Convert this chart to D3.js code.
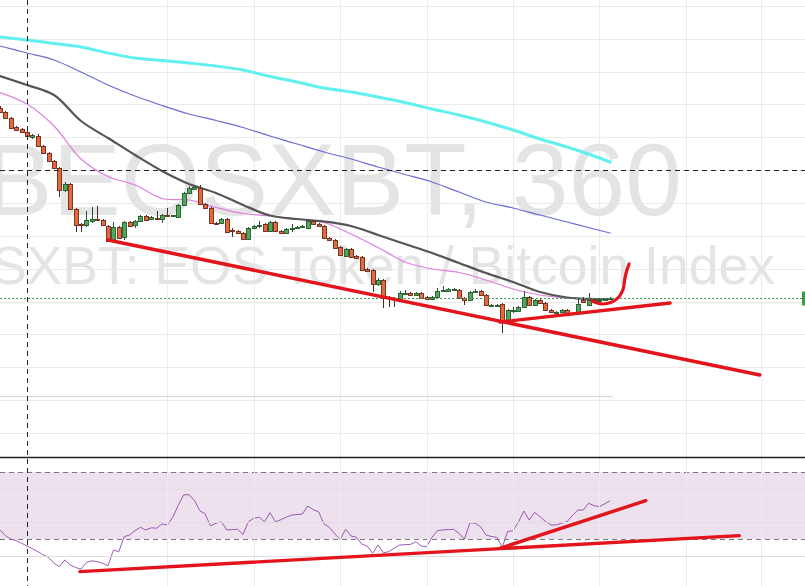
<!DOCTYPE html>
<html>
<head>
<meta charset="utf-8">
<script src="https://cdnjs.cloudflare.com/ajax/libs/d3/7.8.5/d3.min.js"></script>
<style>
html,body{margin:0;padding:0;background:#ffffff;overflow:hidden}
svg{display:block}
</style>
</head>
<body>
<svg id="chart" width="805" height="586"></svg>
<script>
// ---------------- DATA (prices in 1e-6 BTC units, one candle = 360 min) ----------------
const symbolText = ".BEOSXBT, 360";
const descriptionText = ".BEOSXBT: EOS Token / Bitcoin Index";

const opens = [95.2,94.8,94.2,93.3,93.1,92.8,92.3,92.4,91.4,90.7,89.9,89.2,87.0,87.6,85.1,83.6,83.5,83.9,84.1,84.0,
83.4,81.9,83.3,82.3,83.8,83.5,83.9,84.4,84.1,84.2,84.1,84.5,84.4,84.3,85.5,86.7,87.1,87.2,85.6,85.2,
83.7,83.7,84.1,82.95,82.9,82.7,82.1,83.2,83.4,83.6,82.9,83.8,82.9,82.7,83.1,83.2,83.3,83.2,83.9,83.6,
83.4,82.2,82.0,81.3,80.4,81.1,80.4,80.3,79.1,79.0,77.6,78.0,76.3,76.2,76.2,76.7,76.7,76.5,76.7,76.3,
76.1,76.3,76.9,76.9,77.1,77.0,76.2,76.0,76.9,76.9,76.5,75.5,75.5,75.6,74.0,75.0,74.9,75.3,76.3,75.5,
76.0,75.7,75.0,74.8,74.8,75.0,74.7,74.7,76.0,75.5,76.0,76.0,76.1,76.1];
const highs = [95.4,94.9,94.3,93.4,93.2,92.9,92.6,92.6,91.5,90.8,90.0,89.3,87.8,87.7,85.2,83.7,84.9,85.3,85.4,84.1,
83.5,83.8,83.4,83.9,83.9,84.0,84.5,84.5,84.4,84.9,84.6,85.2,84.5,85.6,86.8,87.4,87.5,87.5,85.7,85.3,
83.8,84.2,84.2,83.2,83.0,82.8,83.3,83.5,83.9,83.7,83.9,83.9,83.0,83.2,83.6,83.4,83.5,84.1,84.0,83.7,
83.5,82.3,82.1,81.4,81.2,81.2,80.5,80.4,79.2,79.1,78.2,78.1,76.4,76.3,76.9,77.0,76.8,76.8,76.8,76.4,
76.4,77.2,77.4,77.2,77.2,77.1,76.3,76.9,77.1,77.0,76.6,75.6,75.6,75.7,75.1,75.3,75.4,76.9,76.4,76.1,
76.1,75.8,75.1,74.9,75.1,75.1,74.8,76.2,76.3,76.7,76.1,76.1,76.2,76.3];
const lows = [94.7,94.1,93.1,92.95,92.7,92.3,92.1,91.3,90.6,89.8,89.1,86.3,86.8,85.0,82.8,82.8,83.3,83.7,83.9,83.4,
81.8,81.8,82.1,82.0,83.3,83.2,83.8,83.9,84.0,84.0,83.7,84.3,84.3,84.2,85.4,86.6,87.0,85.5,85.1,83.6,
83.5,83.6,82.7,82.3,82.6,82.0,82.0,83.1,83.2,82.8,82.8,82.8,82.6,82.6,82.8,83.1,83.2,83.1,83.5,83.3,
82.1,81.9,81.1,80.4,80.3,80.2,80.1,78.9,78.8,76.8,77.4,75.2,75.3,75.3,76.0,76.5,76.4,76.4,76.1,76.0,
76.0,76.2,76.8,76.8,77.0,76.1,75.5,75.9,76.7,76.4,75.4,75.4,75.4,72.7,73.9,74.7,74.8,75.2,75.4,75.4,
75.6,74.9,74.7,74.7,74.7,74.5,74.6,74.6,75.7,75.4,75.8,75.9,76.0,76.0];
const closes = [94.8,94.2,93.2,93.05,92.8,92.4,92.5,91.4,90.7,89.9,89.2,87.0,87.6,85.1,83.5,83.5,84.0,84.1,84.0,83.5,
81.9,83.3,82.2,83.8,83.4,83.9,84.4,84.0,84.3,84.1,84.5,84.4,84.45,85.5,86.7,87.2,87.3,85.6,85.2,83.7,
83.6,84.1,82.8,82.9,82.7,82.1,83.2,83.4,83.5,82.9,83.8,82.9,82.7,83.1,83.2,83.3,83.4,83.9,83.6,83.4,
82.2,82.0,81.2,80.5,81.1,80.3,80.2,79.0,78.9,77.6,78.0,76.2,76.2,76.2,76.7,76.7,76.5,76.7,76.2,76.1,
76.3,76.9,77.0,77.1,77.1,76.2,76.0,76.8,76.9,76.5,75.5,75.5,75.5,74.0,75.0,75.0,75.3,76.3,75.5,76.0,
75.7,75.0,74.8,74.8,75.0,74.6,74.7,75.6,75.8,76.0,75.9,76.0,76.1,76.2];

// RSI (14), one value per candle
const rsi = [35.4,32,30,29,27.5,25.8,24.2,22.5,20.5,19,15.5,13.5,17.5,14.5,13,12,16,17,16.5,15.5,
14,23.4,22.4,31.4,32.4,35,37,35.4,36.7,36.4,39,38.4,43,50,56.3,56.5,53,46.9,44.9,37.8,
39.4,40.3,35.4,35.6,35.8,32.8,40.3,42.4,43,40.3,45.7,40.3,41.5,43,44.3,44.6,44.9,49.7,47.5,46.3,
39,37,33,29.8,35.8,31.8,31,27,25.8,21.5,26.4,21.8,22.4,24.5,26.4,26.6,26.8,28.4,25.8,25.4,
31,35,35.4,35.6,35.8,33.4,29.8,39.7,39.4,37.3,32.4,31.5,31,25,34.4,35,40,46.7,41.3,45.9,
43.3,40.5,38.4,38.4,39.4,40.3,44,47.3,47.3,51.3,50,49.3,51,52.9];

// Moving averages sampled at these candle indices
const maIndex = [0,5,10,15,20,25,30,35,40,45,50,55,60,65,70,75,80,85,90,95,100,105,110,113];
const ma200 = [102.3,102.0,101.65,101.3,100.7,100.2,99.95,99.7,99.4,99.0,98.35,97.8,97.2,96.8,96.3,95.75,95.1,94.5,93.8,93.0,92.1,91.3,90.4,89.8];
const ma100 = [101.4,100.7,100.0,98.8,97.5,96.4,95.45,94.6,93.95,93.25,92.4,91.6,90.8,90.1,89.3,88.55,87.8,86.8,85.8,85.2,84.5,83.8,83.1,82.7];
const ma50  = [98.4,97.5,96.5,93.9,92.2,90.5,88.9,87.6,86.7,85.5,84.45,84.1,83.85,83.4,82.5,81.6,80.7,79.7,78.7,77.8,76.8,76.25,76.1,76.1];
const ma20  = [96.75,95.6,93.4,90.1,88.35,87.5,86.15,86.0,85.25,84.65,84.4,84.1,83.75,82.6,81.25,79.8,79.1,78.75,78.0,77.1,76.5,76.2,76.0,76.1];

// Axis ticks (labels are cropped in the screenshot)
const priceTicks = [105.4,102.1,98.8,95.6,92.3,89.0,85.7,82.4,79.1,75.8,72.6,69.3,66.0,62.7];
const timeTicks = [31,47,63,79,95,111,127,141];
const rsiTicks = [20,40,60];
const rsiBand = [30,70];

// Crosshair position and other horizontal lines
const crosshair = {index: 5, price: 89.0};
const faintLine = {price: 66.4, toIndex: 113.5};

// Hand-drawn annotations: [candle index, value]
const priceTrendLower = [[20.0,82.0],[140.7,68.5]];
const priceTrendUpper = [[92.6,73.8],[124.1,75.7]];
const priceHook = [[109.6,75.9],[111.5,75.6],[113.3,75.8],[114.6,76.3],[115.4,77.1],[115.7,78.1],[116.1,79.0],[116.5,79.6]];
const rsiTrendLower = [[14.8,10.5],[136.9,32.0]];
const rsiTrendUpper = [[92.7,24.6],[119.6,52.9]];

// ---------------- CHART ----------------
const W = 805, H = 586, paneBottom = 457;
const svg = d3.select("#chart");

const x = d3.scaleLinear().domain([0, 149]).range([0, 149 * 5.4]);
const y = d3.scaleLinear().domain([106, 60.3]).range([0, paneBottom]);
const yR = d3.scaleLinear().domain([30, 70]).range([539, 472]);

svg.append("rect").attr("width", W).attr("height", H).attr("fill", "#ffffff");

const defs = svg.append("defs");
defs.append("clipPath").attr("id", "mainClip").append("rect").attr("x", 0).attr("y", 0).attr("width", W).attr("height", paneBottom);
defs.append("clipPath").attr("id", "rsiClip").append("rect").attr("x", 0).attr("y", paneBottom).attr("width", W).attr("height", H - paneBottom);

const gridColor = "#ebebeb";

// RSI band (behind grid)
const rsiG = svg.append("g").attr("clip-path", "url(#rsiClip)");
rsiG.append("rect")
  .attr("x", 0).attr("width", W)
  .attr("y", yR(rsiBand[1])).attr("height", yR(rsiBand[0]) - yR(rsiBand[1]))
  .attr("fill", "#ede1ee");

// Vertical grid (both panes)
const xGrid = svg.append("g").attr("transform", `translate(0,${H})`)
  .call(d3.axisBottom(x).tickValues(timeTicks).tickSize(-H).tickFormat(""));
xGrid.select(".domain").remove();
xGrid.selectAll("line").attr("stroke", gridColor).attr("shape-rendering", "crispEdges");

// Horizontal grid main pane
const yGrid = svg.append("g").attr("clip-path", "url(#mainClip)")
  .call(d3.axisLeft(y).tickValues(priceTicks).tickSize(-W).tickFormat(""));
yGrid.select(".domain").remove();
yGrid.selectAll("line").attr("stroke", gridColor).attr("shape-rendering", "crispEdges");

// Horizontal grid RSI pane
const rGrid = svg.append("g")
  .call(d3.axisLeft(yR).tickValues(rsiTicks).tickSize(-W).tickFormat(""));
rGrid.select(".domain").remove();
rGrid.selectAll("line").attr("stroke", "#e2dde3").attr("shape-rendering", "crispEdges");

// Watermark
const wm = svg.append("g").attr("clip-path", "url(#mainClip)")
  .attr("font-family", "'Liberation Sans', Arial, sans-serif").attr("fill", "#e4e4e4");
wm.append("text").attr("x", 682).attr("y", 215).attr("text-anchor", "end")
  .attr("font-size", 102).text(symbolText);
wm.append("text").attr("x", 775).attr("y", 284).attr("text-anchor", "end")
  .attr("font-size", 53.5).text(descriptionText);

const main = svg.append("g").attr("clip-path", "url(#mainClip)");

// faint horizontal line
main.append("line")
  .attr("x1", x(0)).attr("x2", x(faintLine.toIndex))
  .attr("y1", Math.round(y(faintLine.price)) + 0.5).attr("y2", Math.round(y(faintLine.price)) + 0.5)
  .attr("stroke", "#ddd3c8").attr("stroke-width", 1);

// Moving averages
const maLine = d3.line().x(d => x(d[0])).y(d => y(d[1])).curve(d3.curveCatmullRom);
const maSeries = [
  {vals: ma200, color: "#62f0ee", w: 3},
  {vals: ma100, color: "#6b6bd6", w: 1.2},
  {vals: ma20,  color: "#e07ce2", w: 1.2},
  {vals: ma50,  color: "#555555", w: 2.2}
];
maSeries.forEach(s => {
  main.append("path")
    .attr("d", maLine(maIndex.map((k, j) => [k, s.vals[j]])))
    .attr("fill", "none").attr("stroke", s.color).attr("stroke-width", s.w)
    .attr("stroke-linejoin", "round").attr("stroke-linecap", "round");
});

// Candles
const candles = opens.map((o, i) => ({i, o, h: highs[i], l: lows[i], c: closes[i]}));
const upFill = "#4ea95d", upStroke = "#245a2e", dnFill = "#e4693f", dnStroke = "#6e2b18";
const cg = main.append("g");
cg.selectAll("line.wick").data(candles).join("line").attr("class", "wick")
  .attr("x1", d => Math.round(x(d.i)) + 0.5).attr("x2", d => Math.round(x(d.i)) + 0.5)
  .attr("y1", d => y(d.h)).attr("y2", d => y(d.l))
  .attr("stroke", d => d.c >= d.o ? "#2f4f33" : "#4a2a20").attr("stroke-width", 1);
cg.selectAll("rect.body").data(candles).join("rect").attr("class", "body")
  .attr("x", d => Math.round(x(d.i)) - 1.5)
  .attr("width", 4)
  .attr("y", d => Math.round(y(Math.max(d.o, d.c))) + 0.5)
  .attr("height", d => Math.max(1, Math.round(Math.abs(y(d.o) - y(d.c)))))
  .attr("fill", d => d.c >= d.o ? upFill : dnFill)
  .attr("stroke", d => d.c >= d.o ? upStroke : dnStroke)
  .attr("stroke-width", 0.9);

// Current price dotted line
const lastClose = closes[closes.length - 1];
const py = Math.round(y(lastClose)) + 0.5;
svg.append("line").attr("x1", 0).attr("x2", W).attr("y1", py).attr("y2", py)
  .attr("stroke", "#3b9a4c").attr("stroke-width", 1).attr("stroke-dasharray", "2,2");
svg.append("rect").attr("x", W - 3).attr("y", py - 7).attr("width", 3).attr("height", 14).attr("fill", "#3b9a4c");

// RSI dashed band lines and RSI line
rsiBand.forEach(v => {
  rsiG.append("line").attr("x1", 0).attr("x2", W)
    .attr("y1", Math.round(yR(v)) + 0.5).attr("y2", Math.round(yR(v)) + 0.5)
    .attr("stroke", "#7a7a7a").attr("stroke-width", 1).attr("stroke-dasharray", "5,4");
});
rsiG.append("path")
  .attr("d", d3.line().x((d, i) => x(i)).y(d => yR(d))(rsi))
  .attr("fill", "none").attr("stroke", "#9b58b4").attr("stroke-width", 1);

// Crosshair
const cx = Math.round(x(crosshair.index)) + 0.5;
svg.append("line").attr("x1", cx).attr("x2", cx).attr("y1", 0).attr("y2", H)
  .attr("stroke", "#222").attr("stroke-width", 1).attr("stroke-dasharray", "5,4");
const cy = Math.round(y(crosshair.price)) + 0.5;
svg.append("line").attr("x1", 0).attr("x2", W).attr("y1", cy).attr("y2", cy)
  .attr("stroke", "#222").attr("stroke-width", 1).attr("stroke-dasharray", "5,4");

// Pane separator
svg.append("line").attr("x1", 0).attr("x2", W).attr("y1", paneBottom + 0.5).attr("y2", paneBottom + 0.5)
  .attr("stroke", "#222").attr("stroke-width", 1.4);

// Hand-drawn red annotations
const red = "#e3141b";
const pLine = d3.line().x(d => x(d[0])).y(d => y(d[1]));
const pCurve = d3.line().x(d => x(d[0])).y(d => y(d[1])).curve(d3.curveCatmullRom);
const rLine = d3.line().x(d => x(d[0])).y(d => yR(d[1]));
const ann = svg.append("g").attr("fill", "none").attr("stroke", red).attr("stroke-linecap", "round").attr("stroke-linejoin", "round");
ann.append("path").attr("d", pLine(priceTrendLower)).attr("stroke-width", 3.6);
ann.append("path").attr("d", pLine(priceTrendUpper)).attr("stroke-width", 3.4);
ann.append("path").attr("d", pCurve(priceHook)).attr("stroke-width", 3.2);
ann.append("path").attr("d", rLine(rsiTrendLower)).attr("stroke-width", 3.4);
ann.append("path").attr("d", rLine(rsiTrendUpper)).attr("stroke-width", 3.4);
</script>
</body>
</html>
